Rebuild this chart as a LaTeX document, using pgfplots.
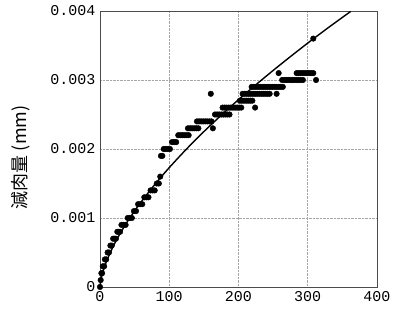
\documentclass[border=0pt]{standalone}
\usepackage{fontspec}
\usepackage{pgfplots}
\pgfplotsset{compat=1.18}
\newfontfamily\jp{Noto Sans CJK JP}
\newfontfamily\tickfont{Liberation Mono}
\begin{document}
\begin{tikzpicture}
\begin{axis}[
  scale only axis, width=277pt, height=276pt,
  xmin=0, xmax=400, ymin=0, ymax=0.004,
  scaled y ticks=false, scaled x ticks=false,
  xtick={0,100,200,300,400},
  ytick={0,0.001,0.002,0.003,0.004},
  yticklabels={0,0.001,0.002,0.003,0.004},
  xticklabels={0,100,200,300,400},
  grid=major,
  grid style={densely dotted, gray!70, line width=0.6pt},
  major tick length=0pt,
  axis line style={black!70, line width=0.8pt},
  tick label style={font=\tickfont\fontsize{15}{15}\selectfont},
  xticklabel style={yshift=-1pt},
  yticklabel style={xshift=-1pt},
  ylabel={\jp\fontsize{18}{18}\selectfont 減肉量 (mm)},
  every axis y label/.style={at={(axis description cs:-0.285,0.47)}, rotate=90, anchor=center},
  clip=false,
]
\addplot[only marks, mark=*, mark size=2.8pt, black] table {
x y
0 0
1 0.0001
2 0.0002
3 0.0002
4 0.0003
6 0.0003
7 0.0004
9 0.0004
11 0.0005
13 0.0005
15 0.0006
17 0.0006
19 0.0007
21 0.0007
23 0.0007
25 0.0008
27 0.0008
29 0.0008
31 0.0009
34 0.0009
37 0.0009
40 0.0010
43 0.0010
46 0.0010
49 0.0011
52 0.0011
55 0.0012
58 0.0012
61 0.0012
64 0.0013
67 0.0013
70 0.0013
73 0.0014
76 0.0014
79 0.0014
82 0.0015
85 0.0015
87 0.0016
88 0.0019
90 0.0019
92 0.0020
95 0.0020
98 0.0020
101 0.0020
104 0.0021
107 0.0021
110 0.0021
113 0.0022
116 0.0022
119 0.0022
122 0.0022
125 0.0022
128 0.0022
127 0.0023
130 0.0023
133 0.0023
136 0.0023
139 0.0023
142 0.0023
140 0.0024
143 0.0024
146 0.0024
149 0.0024
152 0.0024
155 0.0024
158 0.0024
161 0.0024
160 0.0028
163 0.0023
166 0.0025
169 0.0025
172 0.0025
175 0.0025
178 0.0025
181 0.0025
184 0.0025
187 0.0025
177 0.0026
180 0.0026
183 0.0026
186 0.0026
189 0.0026
192 0.0026
195 0.0026
198 0.0026
201 0.0026
204 0.0026
224 0.0026
202 0.0027
205 0.0027
208 0.0027
211 0.0027
214 0.0027
217 0.0027
220 0.0027
206 0.0028
209 0.0028
212 0.0028
215 0.0028
218 0.0028
221 0.0028
224 0.0028
227 0.0028
230 0.0028
233 0.0028
236 0.0028
239 0.0028
242 0.0028
245 0.0028
255 0.0028
219 0.0029
222 0.0029
225 0.0029
228 0.0029
231 0.0029
234 0.0029
237 0.0029
240 0.0029
243 0.0029
246 0.0029
249 0.0029
252 0.0029
255 0.0029
258 0.0029
261 0.0029
264 0.0029
263 0.0030
266 0.0030
269 0.0030
272 0.0030
275 0.0030
278 0.0030
281 0.0030
284 0.0030
287 0.0030
290 0.0030
293 0.0030
312 0.0030
258 0.0031
284 0.0031
287 0.0031
290 0.0031
293 0.0031
296 0.0031
299 0.0031
302 0.0031
305 0.0031
308 0.0031
308 0.0036
};
\addplot[black, line width=1.4pt, smooth] table {
x y
0 0
1 0.0000867
2 0.000136
5 0.000247
10 0.000387
20 0.000608
30 0.000791
40 0.000954
50 0.001103
60 0.001241
80 0.001496
100 0.001730
125 0.002000
150 0.002252
175 0.002489
200 0.002715
225 0.002930
250 0.003138
275 0.003339
300 0.003535
325 0.003724
350 0.003907
362 0.003993
};
\coordinate (sw) at (rel axis cs:0,0);
\coordinate (ne) at (rel axis cs:1,1);
\end{axis}
\pgfresetboundingbox
\path[use as bounding box] ([xshift=-100pt,yshift=-24pt]sw) rectangle ([xshift=21pt,yshift=11pt]ne);
\end{tikzpicture}
\end{document}
